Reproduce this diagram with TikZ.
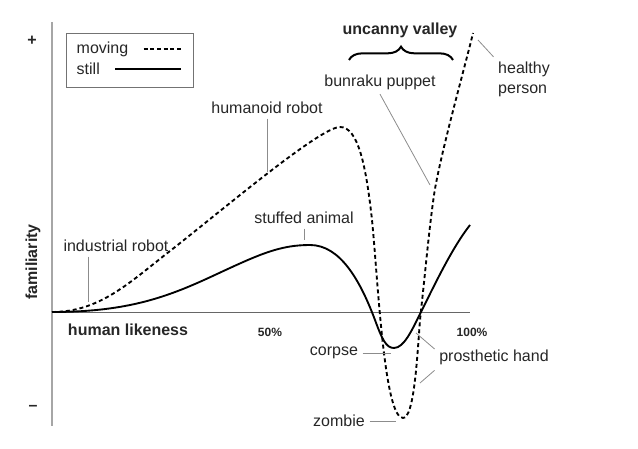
\documentclass[tikz,border=0pt]{standalone}
\usepackage{fontspec}
\setmainfont{Liberation Sans}
\usetikzlibrary{decorations.pathreplacing}

\begin{document}
\begin{tikzpicture}[x=0.75pt, y=-0.75pt,
    lbl/.style={font=\fontsize{12}{15}\selectfont, text=black!85},
    bold/.style={lbl, font=\fontsize{12}{15}\selectfont\bfseries},
    small/.style={lbl, font=\fontsize{9}{11}\selectfont\bfseries},
    leader/.style={draw=black!45, line width=0.6pt},
    curve/.style={line width=1.4pt, line join=round},
    dashcurve/.style={curve, dash pattern=on 3pt off 2.2pt}]
    \useasboundingbox (0,0) rectangle (638,449);

    % 軸
    \draw[black!35, line width=1.2pt] (52,22) -- (52,426);
    \draw[black!60, line width=0.7pt] (52,312) -- (470,312);
    \node[bold] (plus) at (32,41) {+};
    \node[bold] (minus) at (33,408) {–};
    \node[bold, rotate=90] (fam) at (33,262) {familiarity};
    \node[bold] (hl) at (128,330) {human likeness};
    \node[small] (p50) at (270,332) {50\%};
    \node[small] (p100) at (472,332) {100\%};

    % 凡例
    \draw[black!55, line width=0.6pt] (66,33) rectangle (193,87);
    \node[lbl, anchor=west] (mov) at (72,49) {moving};
    \node[lbl, anchor=west] (sti) at (72,69) {still};
    \coordinate (lg) at (181,0);
    \draw[line width=1pt, dash pattern=on 3pt off 2pt] ([xshift=8pt]mov.east) -- (mov.east -| lg);
    \draw[line width=1pt] ([xshift=8pt]sti.east) -- (sti.east -| lg);

    % 曲線 (still)
    \draw[curve] (52,312) .. controls (130,312) and (170,296) .. (217,274)
        .. controls (260,254) and (280,245) .. (310,245)
        .. controls (340,245) and (360,280) .. (375,320)
        .. controls (382,339) and (386,348) .. (394,348)
        .. controls (404,348) and (412,330) .. (421,312)
        .. controls (435,284) and (452,248) .. (470,225);
    % 曲線 (moving)
    \draw[dashcurve] (52,312) .. controls (100,312) and (130,282) .. (170,251)
        .. controls (220,212) and (320,127) .. (340,127)
        .. controls (358,127) and (366,165) .. (372,220)
        .. controls (378,280) and (384,418) .. (403,418)
        .. controls (414,418) and (417,360) .. (420,320)
        .. controls (426,265) and (429,230) .. (434,195)
        .. controls (440,155) and (466,63) .. (473,33);

    % ラベル
    \node[lbl] (ind) at (116,246) {industrial robot};
    \coordinate (indc) at (88,302);
    \draw[leader] (ind.south -| indc) -- (indc);
    \node[lbl] (hum) at (267,108) {humanoid robot};
    \coordinate (humc) at (267,172);
    \draw[leader] (hum.south -| humc) -- (humc);
    \node[lbl] (stf) at (304,218) {stuffed animal};
    \coordinate (stfc) at (304,240);
    \draw[leader] (stf.south -| stfc) -- (stfc);
    \node[lbl] (bun) at (380,82) {bunraku puppet};
    \coordinate (bunc) at (430,185);
    \draw[leader] (bun.south) -- (bunc);
    \node[lbl, align=left] (hea) at (524,79) {healthy\\person};
    \coordinate (heac) at (478,40);
    \draw[leader] (hea.north west) -- (heac);
    \node[bold] (unc) at (400,30) {uncanny valley};
    \draw[decorate, decoration={brace, amplitude=10pt}, line width=1.5pt] (349,60) -- (453,60);
    \node[lbl] (cor) at (334,353) {corpse};
    \coordinate (corc) at (391,353);
    \draw[leader] (cor.east) -- (cor.east -| corc);
    \node[lbl] (zom) at (339,421) {zombie};
    \coordinate (zomc) at (396,422);
    \draw[leader] (zom.east) -- (zom.east -| zomc);
    \node[lbl] (pro) at (494,357) {prosthetic hand};
    \coordinate (proa) at (416,333);
    \coordinate (prob) at (420,383);
    \draw[leader] ([yshift=6pt]pro.west) -- (proa);
    \draw[leader] ([yshift=-10pt]pro.west) -- (prob);
\end{tikzpicture}
\end{document}
